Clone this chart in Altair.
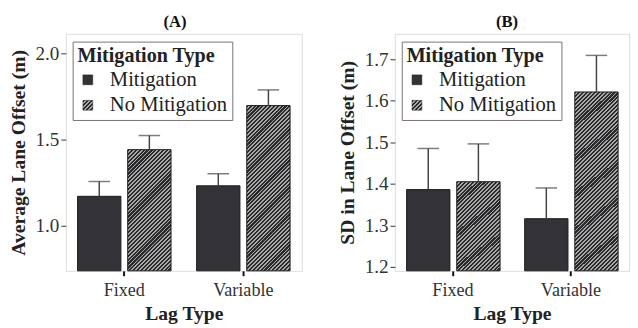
import math
import altair as alt
import pandas as pd

# ---------------- data ----------------
lag = ["Fixed", "Fixed", "Variable", "Variable"]
mit = ["Mitigation", "No Mitigation", "Mitigation", "No Mitigation"]
a_mean = [1.170, 1.441, 1.231, 1.697]
a_upper = [1.256, 1.523, 1.301, 1.788]
b_mean = [1.386, 1.405, 1.316, 1.621]
b_upper = [1.485, 1.496, 1.390, 1.709]
a_ticks = [1.0, 1.5, 2.0]
b_ticks = [1.2, 1.3, 1.4, 1.5, 1.6, 1.7]
a_domain = [0.737, 2.114]
b_domain = [1.1905, 1.761]
series = ["Mitigation", "No Mitigation"]
groups = ["Fixed", "Variable"]

# ---------------- style ----------------
FONT = "Liberation Serif"
H = 242
DARK = "#333337"
H_DARK = "#2a2a2c"
H_LIGHT = "#a8a8a8"
PI, PO = 0.215, 0.099       # group band padding
OPI = 0.136                 # offset band padding
PERIOD = 2.8
DARK_FRAC = 0.55


def stripe_stops(n_per):
    stops = []
    for i in range(n_per):
        a = i / n_per
        m = (i + DARK_FRAC) / n_per
        b = (i + 1) / n_per
        stops += [(a, H_DARK), (m, H_DARK), (m, H_LIGHT), (b, H_LIGHT)]
    return stops


def hatch(w, h):
    s = (w + h) / (w * w + h * h)
    n = max(1, int(round((w + h) / (math.sqrt(2) * PERIOD))))
    return alt.LinearGradient(
        gradient="linear", x1=0, y1=0, x2=s * w, y2=s * h,
        stops=[alt.GradientStop(offset=round(o, 5), color=c) for o, c in stripe_stops(n)],
    )


def legend_hatch_expr():
    st = ", ".join("{offset: %g, color: '%s'}" % (round(o, 5), c) for o, c in stripe_stops(5))
    return "{gradient: 'linear', x1: 0, y1: 0, x2: 1, y2: 1, stops: [" + st + "]}"


def panel(mean, upper, domain, ticks, ytitle, ptitle, width, dx):
    df = pd.DataFrame({"lag": lag, "mit": mit, "mean": mean, "upper": upper})
    base = alt.Chart(df)
    x = alt.X("lag:N", sort=groups,
              scale=alt.Scale(paddingInner=PI, paddingOuter=PO),
              axis=alt.Axis(title="Lag Type", labelAngle=0, tickSize=5, tickWidth=2,
                            tickColor="#111", labelPadding=5, titlePadding=5,
                            domain=False, grid=False, labelFontSize=18.5,
                            titleFontSize=20, titleFontWeight="bold",
                            labelColor="#333", titleColor="#222",
                            labelFont=FONT, titleFont=FONT))
    xo = alt.XOffset("mit:N", sort=series,
                     scale=alt.Scale(domain=series, paddingInner=OPI, paddingOuter=0))
    y = alt.Y("mean:Q",
              scale=alt.Scale(domain=domain, nice=False, zero=False),
              axis=alt.Axis(values=ticks, format=".1f", title=ytitle,
                            titleFontSize=20, titleFontWeight="bold",
                            labelFontSize=19.5, tickSize=5, labelPadding=2,
                            titlePadding=7, domain=False, grid=False,
                            tickColor="#333", labelColor="#333",
                            titleColor="#222", labelFont=FONT, titleFont=FONT))
    y2 = alt.Y2(datum=domain[0])

    color = alt.Color("mit:N",
                      scale=alt.Scale(domain=series,
                                      range=[DARK, {"expr": legend_hatch_expr()}]),
                      legend=alt.Legend(title="Mitigation Type", orient="none",
                                        legendX=7, legendY=8,
                                        titleFontSize=20.5, labelFontSize=21,
                                        titleFont=FONT, labelFont=FONT,
                                        titleColor="#222", labelColor="#222",
                                        symbolType="square", symbolSize=100,
                                        symbolStrokeColor="#111",
                                        symbolStrokeWidth=0.5,
                                        labelOffset=12, padding=5, rowPadding=4,
                                        titlePadding=3, strokeColor="#7a7070",
                                        fillColor="white"))

    bars = base.transform_filter(alt.datum.mit == "Mitigation").mark_bar(
        stroke="#1a1a1a", strokeWidth=1).encode(x=x, xOffset=xo, y=y, y2=y2, color=color)

    layers = [bars]
    step = width / (2 - PI + 2 * PO)
    bw = step * (1 - PI)
    barw = bw / (2 - OPI) * (1 - OPI)
    for g, s_, m in zip(lag, mit, mean):
        if s_ != "No Mitigation":
            continue
        h = (m - domain[0]) / (domain[1] - domain[0]) * H
        hb = base.transform_filter(
            (alt.datum.mit == s_) & (alt.datum.lag == g)
        ).mark_bar(fill=hatch(barw, h), stroke="#1a1a1a", strokeWidth=1).encode(
            x=x, xOffset=xo, y=y, y2=y2)
        layers.append(hb)

    rules = base.mark_rule(color="#444", strokeWidth=1.5).encode(
        x=x, xOffset=xo, y="mean:Q", y2="upper:Q")
    caps = base.mark_tick(color="#444", thickness=1.5, size=22).encode(
        x=x, xOffset=xo, y="upper:Q")
    layers += [rules, caps]

    return alt.layer(*layers).properties(
        width=width, height=H,
        title=alt.TitleParams(ptitle, fontSize=17, fontWeight="bold", font=FONT,
                              color="#111", offset=3, dx=dx),
    )


pa = panel(a_mean, a_upper, a_domain, a_ticks, "Average Lane Offset (m)", "(A)", 241, -9)
pb = panel(b_mean, b_upper, b_domain, b_ticks, "SD in Lane Offset (m)", "(B)", 239, -5)

chart = alt.hconcat(pa, pb, spacing=35).resolve_scale(
    color="independent", y="independent").resolve_legend(color="independent").properties(
    padding={"left": 0, "top": 1, "right": 0, "bottom": 0}
).configure_view(stroke="#a09898", strokeWidth=1).configure(font=FONT)

chart.save("out.html", embed_options={"renderer": "svg", "actions": False})
